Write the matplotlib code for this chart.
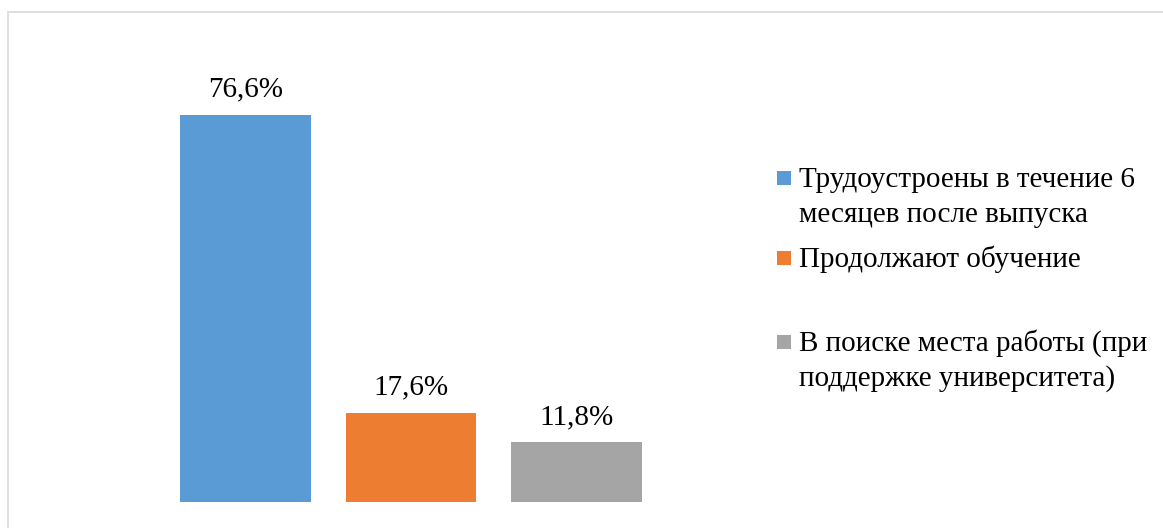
import matplotlib.pyplot as plt
from matplotlib.patches import Rectangle

categories = ["Трудоустроены в течение 6\nмесяцев после выпуска",
              "Продолжают обучение",
              "В поиске места работы (при\nподдержке университета)"]
values = [76.6, 17.6, 11.8]
value_labels = ["76,6%", "17,6%", "11,8%"]
colors = ["#5B9BD5", "#ED7D31", "#A5A5A5"]

plt.rcParams["font.family"] = ["Liberation Serif", "DejaVu Serif"]

W, H = 1163, 528
fig = plt.figure(figsize=(W / 100, H / 100), dpi=100)

# axes placed in pixel terms: baseline at y=502, bar pitch 165.5 px
x_left = 162.75
x_right = 659.25
y_base = 502
y_top = 502 - 90 * 5.05
ax = fig.add_axes([x_left / W, (H - y_base) / H, (x_right - x_left) / W, (y_base - y_top) / H])

xs = list(range(len(values)))
bars = ax.bar(xs, values, width=0.79, color=colors)
ax.set_xlim(-0.5, 2.5)
ax.set_ylim(0, 90)
ax.axis("off")

for b, lab in zip(bars, value_labels):
    ax.annotate(lab, (b.get_x() + b.get_width() / 2, b.get_height()),
                xytext=(0, 9), textcoords="offset points",
                ha="center", va="bottom", fontsize=21, color="black")

# chart border (cut off on the right and bottom)
fig.patches.append(Rectangle((8 / W, -0.1), 1.2, (H - 12) / H + 0.1,
                             transform=fig.transFigure, fill=False,
                             edgecolor="#D9D9D9", linewidth=1.2))

# legend drawn by hand to follow the uneven spacing of the original
entry_y = [178, 258, 342]
line_step = 35
for lab, c, y in zip(categories, colors, entry_y):
    fig.patches.append(Rectangle((777 / W, (H - y - 7) / H), 14 / W, 14 / H,
                                 transform=fig.transFigure, facecolor=c, edgecolor="none"))
    for k, line in enumerate(lab.split("\n")):
        fig.text(799 / W, (H - y - 9 - k * line_step) / H, line, ha="left",
                 va="baseline", fontsize=21, color="black")

fig.savefig("out.png", dpi=100)
